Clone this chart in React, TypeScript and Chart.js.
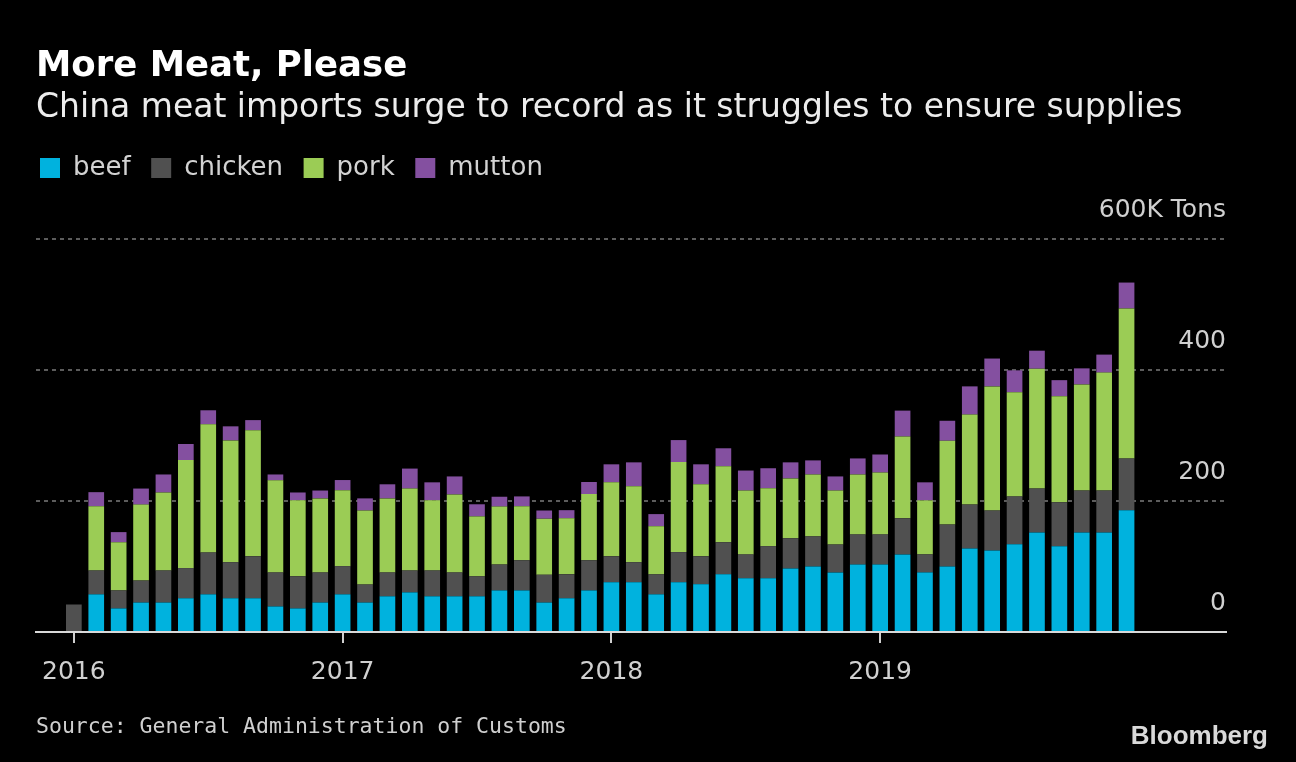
import React, { useEffect, useRef } from "react";
import { Chart, registerables } from "chart.js";

Chart.register(...registerables);

// ---- Data (thousand tons) ----
const months = [
  "2016-01", "2016-02", "2016-03", "2016-04", "2016-05", "2016-06", "2016-07", "2016-08", "2016-09", "2016-10", "2016-11", "2016-12",
  "2017-01", "2017-02", "2017-03", "2017-04", "2017-05", "2017-06", "2017-07", "2017-08", "2017-09", "2017-10", "2017-11", "2017-12",
  "2018-01", "2018-02", "2018-03", "2018-04", "2018-05", "2018-06", "2018-07", "2018-08", "2018-09", "2018-10", "2018-11", "2018-12",
  "2019-01", "2019-02", "2019-03", "2019-04", "2019-05", "2019-06", "2019-07", "2019-08", "2019-09", "2019-10", "2019-11", "2019-12",
];

const beef = [
  0, 57.5, 36, 45, 45, 51.5, 57.5, 51.5, 51.5, 39, 36, 45,
  57.5, 45, 54.5, 60.5, 54.5, 54.5, 54.5, 63.5, 63.5, 45, 51.5, 63.5,
  76, 76, 57.5, 76, 73, 88, 82, 82, 97, 100, 91, 103,
  103, 118.5, 91, 100, 127.5, 124.5, 134, 152, 131, 152, 152, 186,
];
const chicken = [
  42, 36.5, 27.5, 33.5, 49, 46, 64, 55, 64, 52, 49, 46,
  43, 27.5, 36.5, 33.5, 39.5, 36.5, 30.5, 39.5, 46, 42.5, 36.5, 46,
  39.5, 30.5, 30.5, 46, 42.5, 49, 36.5, 49, 46, 46, 42.5, 46,
  46, 55, 27.5, 64, 67, 61, 73, 67, 67, 64, 64, 79,
];
const pork = [
  0, 98, 73.5, 116, 119, 165, 195.5, 186, 192.5, 140.5, 116, 113,
  116, 113, 113, 125, 107, 119, 91.5, 88.5, 82.5, 85.5, 85.5, 101,
  113, 116, 73.5, 137.5, 110, 116, 97.5, 88.5, 91.5, 94.5, 82.5, 91.5,
  94.5, 125, 82.5, 128, 137.5, 189.5, 159, 183, 162, 162, 180, 229,
];
const mutton = [
  0, 21.5, 15.5, 24.5, 27.5, 24.5, 21.5, 21.5, 15.5, 9, 12, 12,
  15.5, 18.5, 21.5, 30.5, 27.5, 27.5, 18.5, 15, 15, 12.5, 12.5, 18.5,
  27.5, 36.5, 18.5, 33.5, 30.5, 27.5, 30.5, 30.5, 24.5, 21.5, 21.5, 24.5,
  27.5, 39.5, 27.5, 30.5, 43, 42.5, 33.5, 27.5, 24.5, 24.5, 27.5, 39.5,
];

const seriesNames = ["beef", "chicken", "pork", "mutton"];
const seriesColors = ["#00b2de", "#505050", "#9bcc55", "#8450a0"];

const yearTickIndex = [0, 12, 24, 36];
const yearLabels = ["2016", "2017", "2018", "2019"];
const yTickValues = [0, 200, 400, 600];
const yTickLabels = ["0", "200", "400", "600K Tons"];

const titleText = "More Meat, Please";
const subtitleText = "China meat imports surge to record as it struggles to ensure supplies";
const sourceText = "Source: General Administration of Customs";
const logoText = "Bloomberg";

const FONT = '"DejaVu Sans", "Noto Sans", sans-serif';

// distance the legend row is lifted above its layout slot (gap between legend and plot)
const LEGEND_LIFT = 48;

const textPlugin = {
  id: "bbTexts",
  afterLayout(chart: any) {
    if (chart.legend) {
      chart.legend.top -= LEGEND_LIFT;
      chart.legend.bottom -= LEGEND_LIFT;
    }
  },
  beforeDraw(chart: any) {
    const ctx = chart.ctx;
    ctx.save();
    ctx.fillStyle = "#000";
    ctx.fillRect(0, 0, chart.width, chart.height);
    ctx.restore();
  },
  afterDraw(chart: any) {
    const ctx = chart.ctx;
    ctx.save();
    ctx.textBaseline = "alphabetic";
    ctx.textAlign = "left";
    ctx.fillStyle = "#ffffff";
    ctx.font = `bold 35.5px ${FONT}`;
    ctx.fillText(titleText, 36, 76);
    ctx.fillStyle = "#ececec";
    ctx.font = `33px ${FONT}`;
    ctx.fillText(subtitleText, 36, 117);
    ctx.fillStyle = "#cfcfcf";
    ctx.font = `21.5px "DejaVu Sans Mono", "Liberation Mono", monospace`;
    ctx.fillText(sourceText, 36, 733);
    ctx.fillStyle = "#d9d9d9";
    ctx.font = `bold 26px "Liberation Sans", Arial, sans-serif`;
    ctx.textAlign = "right";
    ctx.fillText(logoText, 1268, 744);
    ctx.restore();
  },
};

const seriesValues = [beef, chicken, pork, mutton];

export default function App() {
  const ref = useRef<HTMLCanvasElement>(null);
  useEffect(() => {
    if (!ref.current) return;
    const chart = new Chart(ref.current, {
      type: "bar",
      data: {
        labels: months,
        datasets: seriesNames.map((name, s) => ({
          label: name,
          data: seriesValues[s].map((v, i) => ({ x: i, y: v })),
          backgroundColor: seriesColors[s],
          borderWidth: 0,
          categoryPercentage: 1,
          barPercentage: 0.7,
        })),
      },
      options: {
        responsive: false,
        animation: false,
        devicePixelRatio: 1,
        events: [],
        layout: { padding: { left: 36, right: 70, top: 199, bottom: 0 } },
        plugins: {
          title: { display: false },
          tooltip: { enabled: false },
          legend: {
            display: true,
            position: "top",
            align: "start",
            labels: {
              boxWidth: 20,
              boxHeight: 20,
              padding: 4,
              color: "#d2d2d2",
              font: { family: FONT, size: 26 },
              generateLabels: (chart: any) =>
                chart.data.datasets.map((ds: any, i: number) => ({
                  text: ds.label + "  ",
                  fillStyle: ds.backgroundColor,
                  strokeStyle: ds.backgroundColor,
                  lineWidth: 0,
                  hidden: false,
                  datasetIndex: i,
                  fontColor: "#d2d2d2",
                })),
            },
          },
        },
        scales: {
          x: {
            type: "linear",
            stacked: true,
            min: -1.69,
            max: 51.44,
            offset: false,
            z: 1,
            afterBuildTicks: (scale: any) => {
              scale.ticks = yearTickIndex.map((v) => ({ value: v }));
            },
            afterFit: (scale: any) => {
              scale.height = 130;
            },
            grid: {
              display: true,
              offset: false,
              drawOnChartArea: false,
              drawTicks: true,
              tickLength: 11,
              color: "#cfcfcf",
              lineWidth: 2,
            },
            border: { display: true, color: "#d9d9d9", width: 2 },
            ticks: {
              autoSkip: false,
              maxRotation: 0,
              padding: 14,
              color: "#d0d0d0",
              font: { family: FONT, size: 25 },
              callback: (value: any) => {
                const k = yearTickIndex.indexOf(Number(value));
                return k >= 0 ? yearLabels[k] : "";
              },
            },
          },
          y: {
            type: "linear",
            position: "right",
            stacked: true,
            min: 0,
            max: 600,
            z: 1,
            afterBuildTicks: (scale: any) => {
              scale.ticks = yTickValues.map((v) => ({ value: v }));
            },
            afterFit: (scale: any) => {
              scale.width = 0;
              scale.paddingTop = 0;
              scale.paddingBottom = 0;
            },
            grid: {
              display: true,
              drawTicks: false,
              lineWidth: 2,
              color: (c: any) => (c.tick && c.tick.value === 0 ? "rgba(0,0,0,0)" : "#5c5c5c"),
            },
            border: { display: false, dash: [4, 4] },
            ticks: {
              mirror: true,
              padding: 0,
              labelOffset: -29,
              color: "#d0d0d0",
              font: { family: FONT, size: 25 },
              callback: (value: any) => {
                const k = yTickValues.indexOf(Number(value));
                return k >= 0 ? yTickLabels[k] : "";
              },
            },
          },
        },
      },
      plugins: [textPlugin],
    } as any);
    return () => chart.destroy();
  }, []);

  return (
    <div style={{ position: "fixed", left: 0, top: 0, width: 1296, height: 762, background: "#000" }}>
      <canvas ref={ref} width={1296} height={762} style={{ display: "block", width: 1296, height: 762 }} />
    </div>
  );
}
